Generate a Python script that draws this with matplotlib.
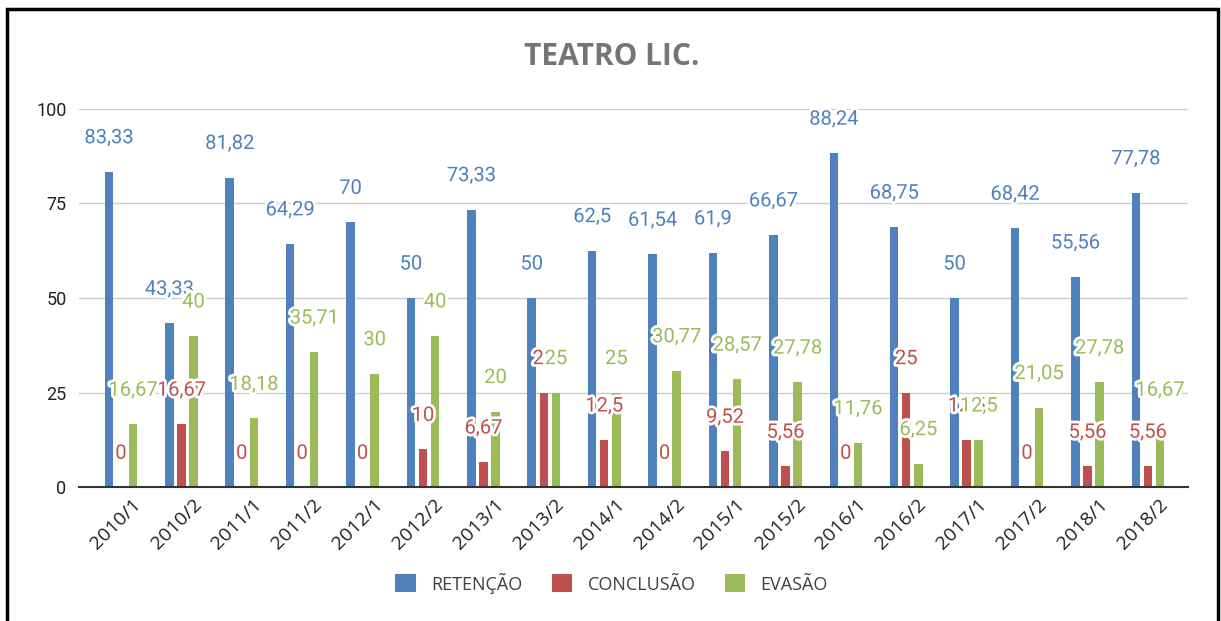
import numpy as np
import matplotlib
matplotlib.use("Agg")
import matplotlib.pyplot as plt
import matplotlib.patheffects as pe
import matplotlib.transforms as mtrans
from matplotlib.patches import Rectangle, Patch

# semesters and rates (%) per category
semestres = ["2010/1", "2010/2", "2011/1", "2011/2", "2012/1", "2012/2",
             "2013/1", "2013/2", "2014/1", "2014/2", "2015/1", "2015/2",
             "2016/1", "2016/2", "2017/1", "2017/2", "2018/1", "2018/2"]
retencao = [83.33, 43.33, 81.82, 64.29, 70, 50, 73.33, 50, 62.5, 61.54,
            61.9, 66.67, 88.24, 68.75, 50, 68.42, 55.56, 77.78]
conclusao = [0, 16.67, 0, 0, 0, 10, 6.67, 25, 12.5, 0,
             9.52, 5.56, 0, 25, 12.5, 0, 5.56, 5.56]
evasao = [16.67, 40, 18.18, 35.71, 30, 40, 20, 25, 25, 30.77,
          28.57, 27.78, 11.76, 6.25, 12.5, 21.05, 27.78, 16.67]

series = [("RETENÇÃO", retencao, "#4F81BD"),
          ("CONCLUSÃO", conclusao, "#C0504D"),
          ("EVASÃO", evasao, "#9BBB59")]

fig = plt.figure(figsize=(12.21, 6.21), dpi=100)
ax = fig.add_axes([79 / 1221, 133.7 / 621, (1188 - 79) / 1221, 0.6097])

x = np.arange(len(semestres))
step = 0.2
width = 0.14

for k, (nome, vals, cor) in enumerate(series):
    ax.bar(x + (k - 1) * step, vals, width=width, color=cor, zorder=2)

# value labels sit above each bar, with a white halo
halo = [pe.withStroke(linewidth=4, foreground="white")]
for k, (nome, vals, cor) in enumerate(series):
    for i, v in enumerate(vals):
        txt = f"{v:g}".replace(".", ",")
        ax.annotate(txt, (x[i] + (k - 1) * step, v), xytext=(0, 34),
                    textcoords="offset pixels", ha="center", va="center",
                    color=cor, fontsize=14.5, family="Roboto",
                    path_effects=halo, zorder=5 + k)

ax.set_xlim(-0.695, 17.665)
ax.set_ylim(0, 100)
ax.set_yticks([0, 25, 50, 75, 100])
ax.grid(axis="y", color="#cccccc", linewidth=1, zorder=0)
ax.tick_params(axis="y", length=0, pad=9, labelsize=13, labelcolor="#222222")
for lab in ax.get_yticklabels():
    lab.set_family("Roboto")

ax.set_xticks(x)
ax.set_xticklabels(semestres, rotation=45, ha="right", rotation_mode="anchor",
                   family="Open Sans", fontsize=14, color="#222222")
ax.tick_params(axis="x", length=0, pad=6)
shift = mtrans.ScaledTranslation(11 / 100, 0, fig.dpi_scale_trans)
for lab in ax.get_xticklabels():
    lab.set_transform(lab.get_transform() + shift)

for s in ["top", "right", "left"]:
    ax.spines[s].set_visible(False)
ax.spines["bottom"].set_color("#333333")
ax.spines["bottom"].set_linewidth(1.5)
ax.spines["bottom"].set_zorder(3)

fig.text(0.501, 1 - 57 / 621, "TEATRO LIC.", ha="center", va="center",
         fontsize=21.5, fontweight="bold", family="Open Sans", color="#757575")

handles = [Patch(facecolor=c, label=n) for n, v, c in series]
leg = fig.legend(handles=handles, loc="center", bbox_to_anchor=(0.501, 38 / 621),
                 ncol=3, frameon=False, handlelength=1.15, handleheight=1.15,
                 handletextpad=0.85, columnspacing=1.6,
                 prop={"family": "Open Sans", "size": 13})
for t in leg.get_texts():
    t.set_color("#404040")

# outer frame
fig.patches.append(Rectangle((7 / 1221, -0.02), (1218 - 7) / 1221, 1.02 - 9 / 621,
                             transform=fig.transFigure, fill=False,
                             edgecolor="black", linewidth=2.5))

fig.savefig("out.png", dpi=100)
